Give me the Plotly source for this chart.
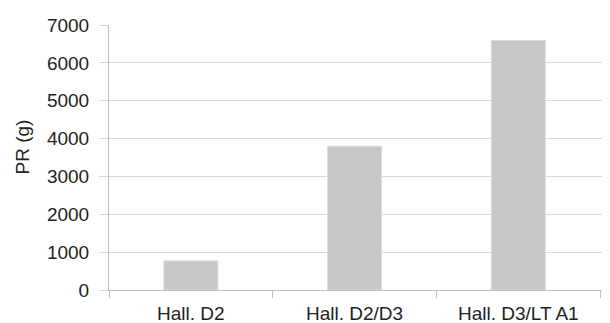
import plotly.graph_objects as go

categories = ["Hall. D2", "Hall. D2/D3", "Hall. D3/LT A1"]
pr_values = [770, 3800, 6590]
y_ticks = [0, 1000, 2000, 3000, 4000, 5000, 6000, 7000]

fig = go.Figure(go.Bar(
    x=categories, y=pr_values,
    marker=dict(color="#c6c7c9", line=dict(color="#dcdde0", width=1)),
    width=0.33,
))

font = dict(family="Liberation Sans, Arial, sans-serif", size=19, color="#222222")

# page body has an 8px default margin; sizes compensate for it
fig.update_layout(
    width=602, height=315,
    margin=dict(l=101, r=0, t=17, b=33, autoexpand=False),
    paper_bgcolor="white", plot_bgcolor="white",
    font=font,
    showlegend=False,
    xaxis=dict(
        type="category", range=[-0.5, 2.56], automargin=False,
        showline=True, linecolor="#bfbfbf", linewidth=1,
        ticks="outside", ticklen=7, tickcolor="#bfbfbf", tickson="boundaries",
        showgrid=False, ticklabelstandoff=6,
    ),
    yaxis=dict(
        range=[0, 7000], tickvals=y_ticks, automargin=False,
        showline=True, linecolor="#bfbfbf", linewidth=1,
        ticks="outside", ticklen=9, tickcolor="#d9d9d9",
        showgrid=True, gridcolor="#d9d9d9", gridwidth=1,
        zeroline=False, ticklabelstandoff=6,
    ),
    annotations=[dict(
        text="PR (g)", xref="paper", yref="paper", x=0, y=0.5,
        xshift=-87, yshift=10, textangle=-90, showarrow=False,
        xanchor="center", yanchor="middle", font=font,
    )],
)

fig.write_html("out.html")
